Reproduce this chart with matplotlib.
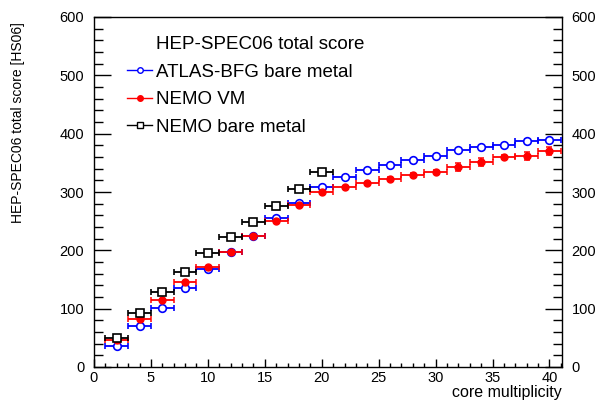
import matplotlib
matplotlib.use('Agg')
import matplotlib.pyplot as plt
from matplotlib.lines import Line2D
from matplotlib.ticker import MultipleLocator

plt.rcParams['font.family'] = ['Liberation Sans', 'DejaVu Sans']

# core multiplicity (bin centres, each bin is +-1 wide)
cores = [2, 4, 6, 8, 10, 12, 14, 16, 18, 20, 22, 24, 26, 28, 30, 32, 34, 36, 38, 40]
core_err = [1] * len(cores)

atlas_bm = [36, 71, 102, 135, 168, 198, 225, 255, 282, 309,
            325, 338, 347, 355, 362, 372, 377, 380, 388, 389]
atlas_bm_err = [1, 1, 1, 1, 1, 1, 1, 1, 1, 1, 1, 1, 1, 1, 1, 2, 2, 2, 2, 2]

nemo_vm = [46, 83, 115, 145, 171, 198, 225, 250, 278, 300,
           308, 316, 323, 329, 335, 343, 351, 360, 362, 371]
nemo_vm_err = [1, 1, 1, 1, 1, 1, 1, 1, 1, 2, 2, 2, 2, 3, 3, 7, 7, 3, 7, 7]

nemo_bm_cores = [2, 4, 6, 8, 10, 12, 14, 16, 18, 20]
nemo_bm = [50, 93, 129, 163, 195, 223, 249, 276, 305, 334]
nemo_bm_err = [1, 1, 1, 1, 1, 1, 1, 1, 1, 1]

fig = plt.figure(figsize=(5.96, 4.0), dpi=100, facecolor='white')
ax = fig.add_axes([94 / 596, 1 - 367 / 400, (562 - 94) / 596, (367 - 17) / 400])

ax.errorbar(cores, atlas_bm, xerr=core_err, yerr=atlas_bm_err, fmt='o', color='blue',
            mfc='white', mec='blue', ms=5.5, mew=1.2, elinewidth=1.3, capsize=2,
            capthick=1.1, zorder=3)
ax.errorbar(cores, nemo_vm, xerr=core_err, yerr=nemo_vm_err, fmt='o', color='red',
            mfc='red', mec='red', ms=5, elinewidth=1.3, capsize=2, capthick=1.1,
            zorder=4)
ax.errorbar(nemo_bm_cores, nemo_bm, xerr=[1] * len(nemo_bm_cores), yerr=nemo_bm_err,
            fmt='s', color='black', mfc='white', mec='black', ms=6, mew=1.2,
            elinewidth=1.3, capsize=2, capthick=1.1, zorder=5)

ax.set_xlim(0, 41.1)
ax.set_ylim(0, 600)
ax.xaxis.set_major_locator(MultipleLocator(5))
ax.xaxis.set_minor_locator(MultipleLocator(1))
ax.yaxis.set_major_locator(MultipleLocator(100))
ax.yaxis.set_minor_locator(MultipleLocator(20))
ax.tick_params(axis='both', which='both', direction='in', top=False, right=True,
               labelright=True, labelsize=10.5, width=1)
ax.tick_params(axis='y', which='major', length=12, pad=7)
ax.tick_params(axis='y', which='minor', length=6.5)
ax.tick_params(axis='x', which='major', length=6, pad=3)
ax.tick_params(axis='x', which='minor', length=3)
for s in ax.spines.values():
    s.set_linewidth(1)

fig.text(562 / 596, 1 - 392 / 400, 'core multiplicity', ha='right', va='center', fontsize=11.5)
fig.text(18 / 596, 1 - 22 / 400, 'HEP-SPEC06 total score [HS06]', rotation=90,
         ha='center', va='top', fontsize=10)

handles = [
    Line2D([], [], linestyle='none', marker=None),
    Line2D([], [], color='blue', marker='o', mfc='white', mec='blue', ms=4, lw=1),
    Line2D([], [], color='red', marker='o', mfc='red', mec='red', ms=4, lw=1),
    Line2D([], [], color='black', marker='s', mfc='white', mec='black', ms=4, lw=1),
]
labels = ['HEP-SPEC06 total score', 'ATLAS-BFG bare metal', 'NEMO VM', 'NEMO bare metal']
fig.legend(handles, labels, loc='upper left', bbox_to_anchor=(127 / 596, 1 - 36 / 400),
           frameon=False, fontsize=13.5, handlelength=1.35, handletextpad=0.2,
           labelspacing=0.56, borderpad=0, borderaxespad=0)

fig.savefig('out.png', dpi=100, facecolor='white')
